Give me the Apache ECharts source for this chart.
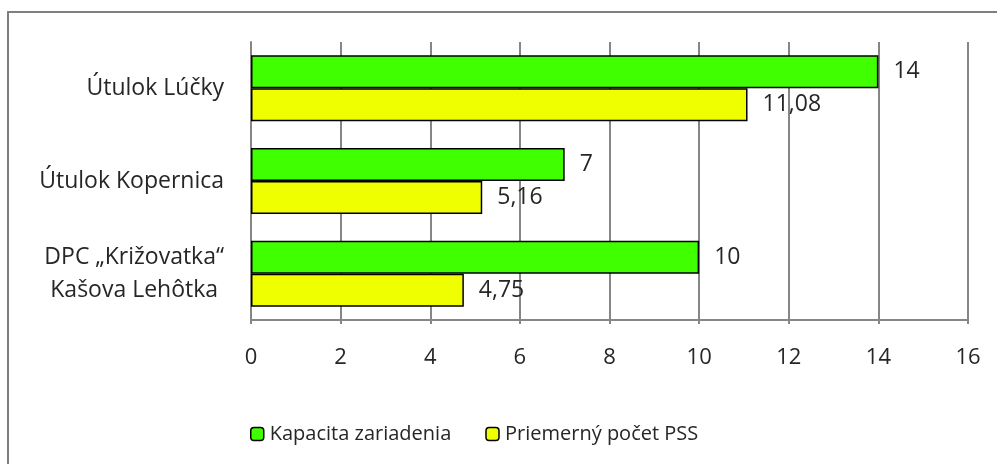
<!DOCTYPE html>
<html>
<head>
<meta charset="utf-8">
<script src="https://cdn.jsdelivr.net/npm/echarts@6/dist/echarts.min.js"></script>
<style>
  html, body { margin: 0; padding: 0; background: #fff; }
  #chart { width: 997px; height: 464px; }
</style>
</head>
<body>
<div id="chart"></div>
<script>
const categories = ['Útulok Lúčky', 'Útulok Kopernica', 'DPC „Križovatka“\nKašova Lehôtka']
const kapacita = [14, 7, 10]
const priemerny = [11.08, 5.16, 4.75]
const seriesNames = ['Kapacita zariadenia', 'Priemerný počet PSS']

const myChart = echarts.init(document.getElementById('chart'))
const labelFmt = p => String(p.value).replace('.', ',')
const font = '"Open Sans", "Noto Sans", sans-serif'

myChart.setOption({
  animation: false,
  textStyle: { fontFamily: font },
  graphic: [{
    type: 'rect',
    shape: { x: 8, y: 12, width: 1100, height: 600 },
    style: { fill: 'none', stroke: '#7f7f7f', lineWidth: 2 }
  }],
  grid: { left: 251, right: 29, top: 42, bottom: 144 },
  legend: {
    top: 419,
    left: 245,
    itemWidth: 13,
    itemHeight: 13,
    itemGap: 34,
    itemStyle: { borderColor: '#000', borderWidth: 1.5 },
    textStyle: { fontSize: 20, color: '#262626', fontFamily: font, padding: [0, 0, 0, 1] },
    data: seriesNames
  },
  xAxis: {
    type: 'value',
    min: 0,
    max: 16,
    interval: 2,
    axisLine: { show: true, lineStyle: { color: '#868686', width: 2 } },
    axisTick: { show: true, length: 4, lineStyle: { color: '#868686', width: 2 } },
    splitLine: { show: true, lineStyle: { color: '#868686', width: 2 } },
    axisLabel: { fontSize: 22, color: '#262626', margin: 27, fontFamily: font }
  },
  yAxis: {
    type: 'category',
    inverse: true,
    data: categories,
    axisLine: { show: true, lineStyle: { color: '#868686', width: 2 } },
    axisTick: { show: false },
    axisLabel: {
      fontSize: 23,
      color: '#262626',
      margin: 27,
      lineHeight: 33,
      fontFamily: font,
      formatter: v => v.includes('\n') ? v.split('\n').map(l => '{c|' + l + '}').join('\n') : v,
      rich: { c: { align: 'center', fontSize: 23, lineHeight: 33, color: '#262626', fontFamily: font } }
    }
  },
  series: [
    {
      name: seriesNames[0],
      type: 'bar',
      data: kapacita,
      barWidth: 33,
      barGap: '0%',
      itemStyle: { color: '#40ff00', borderColor: '#000', borderWidth: 1.5 },
      label: { show: true, position: 'right', distance: 15, fontSize: 23, color: '#262626', formatter: labelFmt, fontFamily: font }
    },
    {
      name: seriesNames[1],
      type: 'bar',
      data: priemerny,
      barWidth: 33,
      itemStyle: { color: '#f0ff00', borderColor: '#000', borderWidth: 1.5 },
      label: { show: true, position: 'right', distance: 15, fontSize: 23, color: '#262626', formatter: labelFmt, fontFamily: font }
    }
  ]
})
</script>
</body>
</html>
